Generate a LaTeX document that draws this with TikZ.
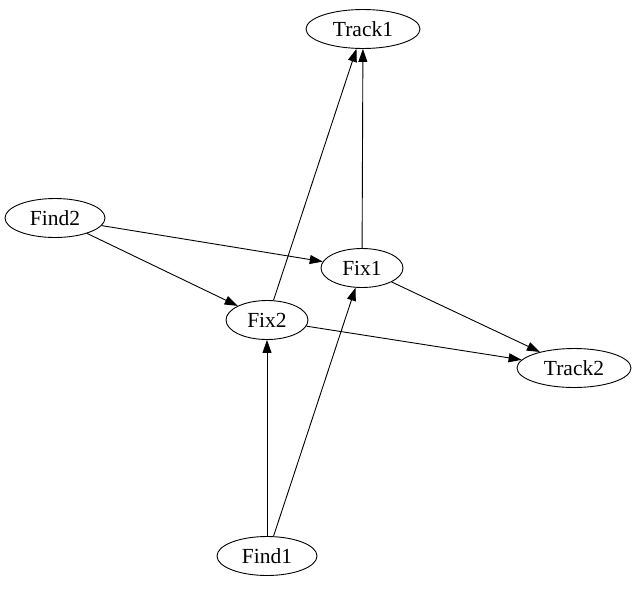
\documentclass[tikz,border=0pt]{standalone}
\usepackage{fontspec}
\setmainfont{Liberation Serif}
\usetikzlibrary{shapes.geometric,arrows.meta}
\begin{document}
\begin{tikzpicture}[x=1pt,y=-1pt,
  nd/.style={draw,ellipse,inner sep=0pt,minimum height=39pt,line width=0.9pt,font=\fontsize{21.5}{24}\selectfont},
  ar/.style={-{Triangle[length=13pt,width=9pt]},line width=0.9pt}]
\useasboundingbox (0,0) rectangle (636,589);
\node[nd,minimum width=114pt] (Track1) at (363,29) {Track1};
\node[nd,minimum width=100pt] (Find2) at (55,218) {Find2};
\node[nd,minimum width=82pt] (Fix1) at (362,268) {Fix1};
\node[nd,minimum width=82pt] (Fix2) at (267,320) {Fix2};
\node[nd,minimum width=114pt] (Track2) at (574,368) {Track2};
\node[nd,minimum width=100pt] (Find1) at (267,556) {Find1};
\draw[ar] (Find2) -- (Fix1);
\draw[ar] (Find2) -- (Fix2);
\draw[ar] (Fix1) -- (Track1);
\draw[ar] (Fix1) -- (Track2);
\draw[ar] (Fix2) -- (Track1);
\draw[ar] (Fix2) -- (Track2);
\draw[ar] (Find1) -- (Fix2);
\draw[ar] (Find1) -- (Fix1);
\end{tikzpicture}
\end{document}
